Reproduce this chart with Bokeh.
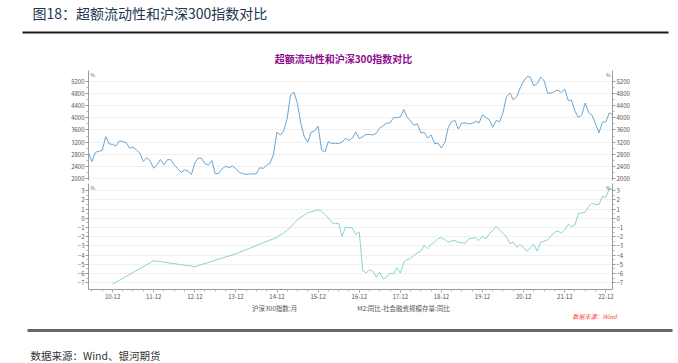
import pandas as pd
from bokeh.plotting import figure
from bokeh.layouts import column
from bokeh.models import (Range1d, LinearAxis, FixedTicker, DatetimeTickFormatter,
                          Legend, LegendItem)
from bokeh.core.properties import value
from bokeh.embed import file_html
from bokeh.resources import INLINE

FONT = "Noto Sans CJK SC"
W = 678

# ---------------- data ----------------
csi_start = "2010-05"
csi300 = [
    2857, 2563, 2868, 2903, 2935, 3379, 3144, 3128,                       # 2010 May-Dec
    3077, 3239, 3223, 3183, 3000, 3044, 2942, 2840, 2564, 2697, 2579, 2346,  # 2011
    2464, 2634, 2455, 2626, 2625, 2462, 2333, 2205, 2293, 2254, 2140, 2523,  # 2012
    2687, 2673, 2495, 2452, 2604, 2164, 2178, 2329, 2409, 2368, 2413, 2331,  # 2013
    2202, 2178, 2146, 2158, 2161, 2165, 2365, 2339, 2451, 2508, 2808, 3533,  # 2014
    3434, 3573, 3966, 4750, 4841, 4473, 3817, 3366, 3203, 3534, 3566, 3731,  # 2015
    2946, 2877, 3218, 3156, 3169, 3154, 3203, 3327, 3253, 3336, 3538, 3310,  # 2016
    3387, 3452, 3456, 3439, 3492, 3666, 3737, 3822, 3837, 4006, 4006, 4030,  # 2017
    4275, 4023, 3899, 3756, 3802, 3510, 3517, 3335, 3438, 3153, 3172, 3010,  # 2018
    3201, 3670, 3872, 3913, 3630, 3825, 3835, 3799, 3814, 3886, 3828, 4097,  # 2019
    4003, 3940, 3686, 3912, 3868, 4164, 4695, 4817, 4588, 4695, 4981, 5211,  # 2020
    5352, 5336, 5048, 5123, 5331, 5224, 4812, 4806, 4866, 4908, 4833, 4940,  # 2021
    4564, 4582, 4223, 4016, 4091, 4485, 4170, 4079, 3804, 3508, 3854, 3872,  # 2022
    4157, 4105,                                                           # 2023 Jan-Feb
]

m2_early_months = ["2010-12", "2011-12", "2012-12", "2013-12", "2014-12",
                   "2015-03", "2015-06", "2015-09", "2015-12"]
m2_early = [-7.15, -4.6, -5.25, -3.85, -2.05, -1.32, -0.15, 0.61, 0.93]
m2_monthly_start = "2016-01"
m2_monthly = [
    0.78, 0.40, 0.07, -0.45, -0.59, -0.52, -1.97, -0.96, -1.00, -1.05, -1.75, -1.50,   # 2016
    -5.66, -5.95, -5.59, -5.74, -6.39, -5.85, -6.57, -6.39, -5.95, -6.02, -5.37, -5.95,  # 2017
    -4.76, -4.50, -4.36, -4.00, -3.78, -3.57, -2.95, -3.30, -2.84, -2.58, -2.20, -2.10,  # 2018
    -2.33, -2.58, -2.45, -2.40, -2.58, -2.65, -2.70, -2.22, -2.15, -2.10, -2.40, -1.97,  # 2019
    -2.22, -1.67, -1.30, -0.88, -1.30, -1.60, -2.04, -2.76, -2.58, -3.13, -2.84, -3.20,  # 2020
    -3.57, -3.20, -2.84, -3.57, -2.60, -2.48, -2.33, -1.90, -1.50, -1.39, -1.61, -1.20,  # 2021
    -0.66, -0.88, -0.70, 0.50, 0.60, 0.67, 1.29, 1.65, 1.51, 1.51, 2.38, 2.30,          # 2022
    3.25, 3.10,                                                                       # 2023
]

tick_years = list(range(2010, 2023))          # labels "10-12" ... "22-12"
y1_ticks = list(range(2000, 5201, 400))
y2_ticks = list(range(-7, 4))

title_main = "图18：超额流动性和沪深300指数对比"
chart_title = "超额流动性和沪深300指数对比"
legend_labels = ["沪深300指数:月", "M2:同比-社会融资规模存量:同比"]
source_note = "数据来源：Wind"
footer_note = "数据来源：Wind、银河期货"

# ---------------- derived ----------------
csi_dates = pd.period_range(csi_start, periods=len(csi300), freq="M").end_time.normalize()
m2_dates = list(pd.PeriodIndex(m2_early_months, freq="M").end_time.normalize()) + \
    list(pd.period_range(m2_monthly_start, periods=len(m2_monthly), freq="M").end_time.normalize())
m2_vals = m2_early + m2_monthly


def ms(ts):
    return pd.Timestamp(ts).value / 1e6


x_ticks = [ms(f"{y}-12-31") for y in tick_years]
x_minor = [ms(t) for t in pd.period_range("2010-06", "2023-02", freq="Q").end_time.normalize()]

CSI_COLOR = "#6aa5d2"
M2_COLOR = "#8ad3d2"
AX_COLOR = "#9a9a9a"


def style_axis(ax, ticks, minor):
    ax.ticker = FixedTicker(ticks=ticks, minor_ticks=minor)
    ax.axis_line_color = AX_COLOR
    ax.major_tick_line_color = AX_COLOR
    ax.minor_tick_line_color = "#b5b5b5"
    ax.major_tick_in = 0
    ax.major_tick_out = 3
    ax.minor_tick_in = 0
    ax.minor_tick_out = 2
    ax.major_label_standoff = 1
    ax.major_label_text_font = FONT
    ax.major_label_text_font_size = "6px"
    ax.major_label_text_color = "#555555"


def deco_fig(h):
    f = figure(width=W, height=h, x_range=Range1d(0, W), y_range=Range1d(h, 0),
               output_backend="svg", toolbar_location=None,
               x_axis_location=None, y_axis_location=None, frame_align=False,
               min_border_left=0, min_border_right=0, min_border_top=0, min_border_bottom=0)
    f.outline_line_color = None
    f.xgrid.visible = False
    f.ygrid.visible = False
    return f


# ---------------- header (page y 0..70) ----------------
H = deco_fig(70)
H.text(x=[32], y=[12.5], text=[title_main], text_font=value(FONT), text_font_size="14px",
       text_color="#23344f", text_baseline="middle", text_align="left")
H.segment(x0=[22], y0=[32], x1=[668], y1=[32], line_color="#1a1a1a", line_width=2)
H.text(x=[343], y=[58], text=[chart_title], text_font=value(FONT), text_font_size="10px",
       text_font_style="bold", text_color="#8e0c8e", text_baseline="middle", text_align="center")

# ---------------- top panel (page y 70..183, frame 70..180) ----------------
T = figure(width=W, height=113, x_range=Range1d(start=csi_dates[0], end=csi_dates[-1]),
           y_range=Range1d(1944, 5551),
           x_axis_type="datetime", x_axis_location=None, y_axis_location="left",
           output_backend="svg", toolbar_location=None, frame_align=False,
           min_border_left=88, min_border_right=66, min_border_top=0, min_border_bottom=3)
T.outline_line_color = None
T.xgrid.visible = False
T.ygrid.ticker = FixedTicker(ticks=y1_ticks)
T.ygrid.grid_line_color = "#f0f0f0"
T.add_layout(LinearAxis(), "right")
for ax in T.yaxis:
    style_axis(ax, y1_ticks, [v + 200 for v in y1_ticks[:-1]])
T.line(csi_dates, csi300, line_color=CSI_COLOR, line_width=1)
T.text(x=[csi_dates[0]], y=[5551], text=["%"], x_offset=2, text_baseline="top", text_align="left",
       text_font=value(FONT), text_font_size="5px", text_color="#666666")
T.text(x=[csi_dates[-1]], y=[5551], text=["%"], x_offset=-2, text_baseline="top", text_align="right",
       text_font=value(FONT), text_font_size="5px", text_color="#666666")

# ---------------- bottom panel (page y 183..303, frame 183..289) ----------------
B = figure(width=W, height=120, x_range=Range1d(start=csi_dates[0], end=csi_dates[-1]),
           y_range=Range1d(-7.73, 3.79),
           x_axis_type="datetime", y_axis_location="left",
           output_backend="svg", toolbar_location=None, frame_align=False,
           min_border_left=88, min_border_right=66, min_border_top=0, min_border_bottom=14)
B.outline_line_color = None
B.xgrid.visible = False
B.ygrid.ticker = FixedTicker(ticks=y2_ticks)
B.ygrid.grid_line_color = "#f0f0f0"
B.add_layout(LinearAxis(), "right")
for ax in B.yaxis:
    style_axis(ax, y2_ticks, [v + 0.5 for v in y2_ticks[:-1]])
style_axis(B.xaxis[0], x_ticks, x_minor)
B.xaxis[0].formatter = DatetimeTickFormatter(
    years="%y-%m", months="%y-%m", days="%y-%m", hours="%y-%m", minutes="%y-%m",
    seconds="%y-%m", milliseconds="%y-%m", microseconds="%y-%m", minsec="%y-%m", hourmin="%y-%m")
B.line(m2_dates, m2_vals, line_color=M2_COLOR, line_width=1)
B.text(x=[csi_dates[0]], y=[3.79], text=["%"], x_offset=2, text_baseline="top", text_align="left",
       text_font=value(FONT), text_font_size="5px", text_color="#666666")
B.text(x=[csi_dates[-1]], y=[3.79], text=["%"], x_offset=-2, text_baseline="top", text_align="right",
       text_font=value(FONT), text_font_size="5px", text_color="#666666")

# ---------------- footer (page y 303..363) ----------------
F = deco_fig(60)
lg1 = F.line(x=[], y=[], line_color=CSI_COLOR, line_width=1)
lg2 = F.line(x=[], y=[], line_color=M2_COLOR, line_width=1)
legend = Legend(items=[LegendItem(label=legend_labels[0], renderers=[lg1]),
                       LegendItem(label=legend_labels[1], renderers=[lg2])],
                orientation="horizontal", location=(242, 50),
                label_text_font=FONT, label_text_font_size="6.5px", label_text_color="#555555",
                glyph_width=8, glyph_height=6, label_height=6, label_standoff=2,
                spacing=50, padding=0, margin=0,
                border_line_color=None, background_fill_alpha=0)
F.add_layout(legend, "center")
F.text(x=[572], y=[13], text=[source_note], text_font=value(FONT), text_font_size="6px",
       text_font_style="italic", text_color="#ff3b3b", text_baseline="middle", text_align="left")
F.segment(x0=[27], y0=[27], x1=[672], y1=[27], line_color="#666666", line_width=3)
F.text(x=[30], y=[51.5], text=[footer_note], text_font=value(FONT), text_font_size="10.5px",
       text_color="#333333", text_baseline="middle", text_align="left")

layout = column(H, T, B, F, spacing=0)
open("out.html", "w").write(file_html(layout, INLINE))
